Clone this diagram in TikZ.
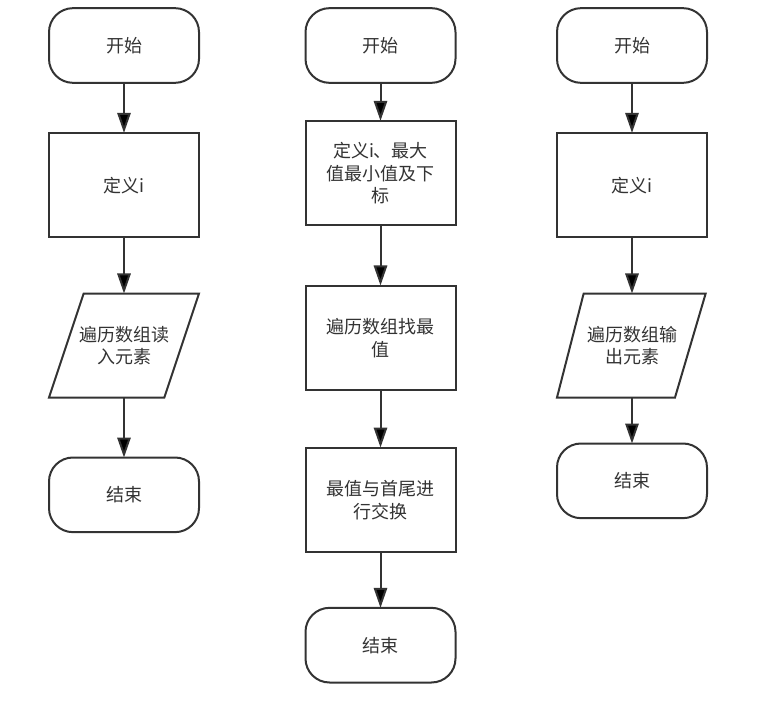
\documentclass[tikz,border=0pt]{standalone}
\usepackage{fontspec}
\newfontfamily\cjk{Noto Sans CJK SC}
\usepackage{tikz}
\usetikzlibrary{positioning,arrows.meta}

\definecolor{linegray}{HTML}{333333}

\tikzset{
  base/.style={draw=linegray, line width=1.5pt, fill=white, text=linegray, outer sep=0pt,
    align=center, font=\cjk\fontsize{13.5pt}{17pt}\selectfont, inner sep=2pt},
  terminal/.style={base, rounded corners=18pt, minimum width=112.5pt, minimum height=56pt},
  process/.style={base, minimum width=112.5pt, minimum height=78.5pt},
  inout/.style={base, draw=none, fill=none, minimum width=112.5pt, minimum height=78pt},
  slant/.style={draw=linegray, line width=1.5pt, line join=miter},
  flow/.style={draw=linegray, line width=1.5pt, -{Triangle[width=10pt,length=15pt]}}
}

\begin{document}
\begin{tikzpicture}[x=0.75pt,y=-0.75pt]

  \useasboundingbox (0,0) rectangle (768,706);

  % first column
  \node[terminal] (s1) at (124,45.5) {开始};
  \node[process] (d1) [below=37.5pt of s1] {定义i};
  \node[inout] (r1) [below=42pt of d1] {遍历数组读\\入元素};
  \node[terminal] (e1) [below=45pt of r1] {结束};
  \draw[slant] ([xshift=26pt]r1.north west) -- (r1.north east)
    -- ([xshift=-26pt]r1.south east) -- (r1.south west) -- cycle;

  % second column
  \node[terminal] (s2) at (380.5,45.5) {开始};
  \node[process] (d2) [below=28.5pt of s2] {定义i、最大\\值最小值及下\\标};
  \node[process] (f2) [below=45pt of d2] {遍历数组找最\\值};
  \node[process] (x2) [below=43pt of f2] {最值与首尾进\\行交换};
  \node[terminal] (e2) [below=41.75pt of x2] {结束};

  % third column
  \node[terminal] (s3) at (632,45.5) {开始};
  \node[process] (d3) [below=37.5pt of s3] {定义i};
  \node[inout] (w3) [below=42pt of d3] {遍历数组输\\出元素};
  \node[terminal] (e3) [below=34.5pt of w3] {结束};
  \draw[slant] ([xshift=20pt]w3.north west) -- ([xshift=-1pt]w3.north east)
    -- ([xshift=-24pt]w3.south east) -- (w3.south west) -- cycle;

  \path[flow] (s1) edge (d1);
  \path[flow] (d1) edge (r1);
  \path[flow] (r1) edge (e1);
  \path[flow] (s2) edge (d2);
  \path[flow] (d2) edge (f2);
  \path[flow] (f2) edge (x2);
  \path[flow] (x2) edge (e2);
  \path[flow] (s3) edge (d3);
  \path[flow] (d3) edge (w3);
  \path[flow] (w3) edge (e3);

\end{tikzpicture}
\end{document}
